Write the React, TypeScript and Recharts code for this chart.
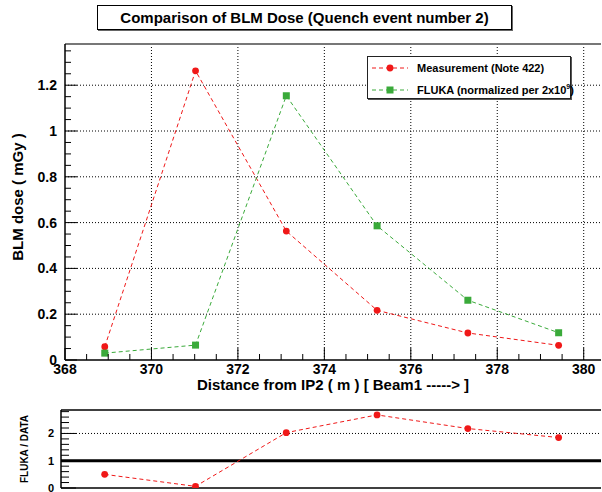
import React from 'react';
import { LineChart, Line, XAxis, YAxis, ReferenceLine, Legend, Label } from 'recharts';

// positions of the BLMs along the beam line (m)
const positions = [368.92, 371.02, 373.12, 375.22, 377.32, 379.42];
// measured dose (Note 422), mGy
const measurement = [0.058, 1.263, 0.563, 0.217, 0.118, 0.064];
// FLUKA simulation normalized per 2x10^9
const fluka = [0.03, 0.065, 1.154, 0.586, 0.261, 0.119];
// FLUKA / DATA ratio
const ratio = [0.5, 0.06, 2.03, 2.68, 2.18, 1.85];

const xMajorTicks = [368, 370, 372, 374, 376, 378, 380];
const yMajorTicks = [0, 0.2, 0.4, 0.6, 0.8, 1, 1.2];
const ratioMajorTicks = [0, 1, 2];

const X_DOMAIN: [number, number] = [368, 380.4];
const RATIO_X_DOMAIN: [number, number] = [367.91, 380.4];
const Y_MAX = 1.38;
const RATIO_MAX = 2.86;

const RED = '#f01818';
const GREEN = '#3aaa3a';

// add minor ticks between major ones (axis decoration only)
const withMinor = (majors: number[], step: number, max: number) => {
  const out: number[] = [];
  for (let i = 0; Math.round((majors[0] + i * step) * 1000) / 1000 <= max; i++) {
    out.push(Math.round((majors[0] + i * step) * 1000) / 1000);
  }
  return out;
};

const xTicks = withMinor(xMajorTicks, 0.5, X_DOMAIN[1]);
const yTicks = withMinor(yMajorTicks, 0.05, Y_MAX);
const ratioTicks = withMinor(ratioMajorTicks, 0.2, RATIO_MAX);

const isMajor = (v: number, majors: number[]) => majors.some((m) => Math.abs(m - v) < 1e-6);

const mainData = positions.map((x, i) => ({ x, measurement: measurement[i], fluka: fluka[i] }));
const ratioData = positions.map((x, i) => ({ x, ratio: ratio[i] }));

const XTick = (props: any) => {
  const { x, y, payload } = props;
  const major = isMajor(payload.value, xMajorTicks);
  return (
    <g>
      <line x1={x} x2={x} y1={y} y2={y - (major ? 12 : 6)} stroke="#000" />
      {major && (
        <text x={x} y={y + 14} textAnchor="middle" fontSize={14} fontWeight="bold" fill="#000">
          {payload.value}
        </text>
      )}
    </g>
  );
};

const YTick = (props: any) => {
  const { x, y, payload } = props;
  const major = isMajor(payload.value, yMajorTicks);
  return (
    <g>
      <line x1={x} x2={x + (major ? 12 : 6)} y1={y} y2={y} stroke="#000" />
      {major && (
        <text x={x - 8} y={y + 5} textAnchor="end" fontSize={14} fontWeight="bold" fill="#000">
          {String(Number(payload.value.toFixed(1)))}
        </text>
      )}
    </g>
  );
};

const RatioTick = (props: any) => {
  const { x, y, payload } = props;
  const major = isMajor(payload.value, ratioMajorTicks);
  return (
    <g>
      <line x1={x} x2={x + (major ? 15 : 8)} y1={y} y2={y} stroke="#000" />
      {major && (
        <text x={x - 7} y={y + 4} textAnchor="end" fontSize={11} fontWeight="bold" fill="#000">
          {payload.value}
        </text>
      )}
    </g>
  );
};

const RedDot = (p: any) => <circle key={`r-${p.index}`} cx={p.cx} cy={p.cy} r={3.4} fill={RED} />;
const GreenSquare = (p: any) => (
  <rect key={`g-${p.index}`} x={p.cx - 3.5} y={p.cy - 3.5} width={7} height={7} fill={GREEN} />
);

const legendOrder = ['measurement', 'fluka'];

const LegendBox = (props: any) => {
  const items = [...(props.payload || [])].sort(
    (a: any, b: any) => legendOrder.indexOf(a.value) - legendOrder.indexOf(b.value)
  );
  return (
    <div
      style={{
        width: 202,
        height: 41,
        border: '1px solid #222',
        boxShadow: '1px 1px 0 #555',
        background: '#fff',
        position: 'relative',
      }}
    >
      {items.map((item: any, i: number) => (
        <div key={item.value} style={{ position: 'absolute', left: 0, top: i === 0 ? 2 : 24, height: 18, width: 260 }}>
          <svg width={44} height={18} style={{ position: 'absolute', left: 2, top: 0 }}>
            <line x1={2} x2={38} y1={9} y2={9} stroke={item.color} strokeDasharray="4 3" />
            {item.type === 'square' ? (
              <rect x={20 - 3.5} y={9 - 3.5} width={7} height={7} fill={item.color} />
            ) : (
              <circle cx={20} cy={9} r={3.4} fill={item.color} />
            )}
          </svg>
          <span
            style={{
              position: 'absolute',
              left: 49,
              top: 2,
              fontSize: 11,
              fontWeight: 'bold',
              whiteSpace: 'nowrap',
              lineHeight: '14px',
            }}
          >
            {item.value === 'fluka' ? (
              <>
                FLUKA (normalized per 2x10<sup style={{ fontSize: 7, verticalAlign: 5, lineHeight: 0 }}>9</sup>)
              </>
            ) : (
              'Measurement (Note 422)'
            )}
          </span>
        </div>
      ))}
    </div>
  );
};

export default function App() {
  return (
    <div
      style={{
        position: 'fixed',
        left: 0,
        top: 0,
        width: 602,
        height: 492,
        overflow: 'hidden',
        background: '#fff',
        fontFamily: '"Liberation Sans", Arial, sans-serif',
      }}
    >
      <div
        style={{
          position: 'absolute',
          left: 97,
          top: 5,
          width: 413,
          height: 23,
          border: '1px solid #000',
          boxShadow: '1px 1px 0 #666',
          textAlign: 'center',
          lineHeight: '23px',
          fontSize: 15,
          fontWeight: 'bold',
        }}
      >
        Comparison of BLM Dose (Quench event number 2)
      </div>

      <div style={{ position: 'absolute', left: 0, top: 0 }}>
        <LineChart width={602} height={400} data={mainData} margin={{ top: 44, right: 1, left: 0, bottom: 0 }}>
          <XAxis
            dataKey="x"
            type="number"
            domain={X_DOMAIN}
            allowDataOverflow
            ticks={xTicks}
            interval={0}
            tick={<XTick />}
            tickLine={false}
            tickSize={0}
            tickMargin={0}
            height={40}
            axisLine={{ stroke: '#000', strokeWidth: 1.5 }}
          >
            <Label
              content={(p: any) => {
                const vb = p.viewBox;
                return (
                  <text x={vb.x + vb.width / 2} y={vb.y + 30} textAnchor="middle" fontSize={15} fontWeight="bold" fill="#000">
                    Distance from IP2 ( m ) [ Beam1 -----&gt; ]
                  </text>
                );
              }}
            />
          </XAxis>
          <YAxis
            type="number"
            domain={[0, Y_MAX]}
            allowDataOverflow
            ticks={yTicks}
            interval={0}
            tick={<YTick />}
            tickLine={false}
            tickSize={0}
            tickMargin={0}
            width={65}
            axisLine={{ stroke: '#000', strokeWidth: 1.5 }}
          >
            <Label
              content={(p: any) => {
                const vb = p.viewBox;
                const cx = vb.x + 17;
                const cy = vb.y + vb.height / 2 - 5;
                return (
                  <text
                    x={cx}
                    y={cy}
                    transform={`rotate(-90 ${cx} ${cy})`}
                    textAnchor="middle"
                    dominantBaseline="central"
                    fontSize={15}
                    fontWeight="bold"
                    fill="#000"
                  >
                    BLM dose ( mGy )
                  </text>
                );
              }}
            />
          </YAxis>
          {xMajorTicks.slice(1).map((v) => (
            <ReferenceLine key={`gx-${v}`} x={v} stroke="#000" strokeDasharray="1 2" />
          ))}
          {yMajorTicks.slice(1).map((v) => (
            <ReferenceLine key={`gy-${v}`} y={v} stroke="#000" strokeDasharray="1 2" />
          ))}
          <ReferenceLine y={Y_MAX} stroke="#777" strokeWidth={2} />
          <Legend
            layout="horizontal"
            verticalAlign="middle"
            align="center"
            content={<LegendBox />}
            wrapperStyle={{ position: 'absolute', left: 367, top: 56, width: 204, height: 43 }}
          />
          <Line
            dataKey="measurement"
            name="measurement"
            stroke={RED}
            strokeDasharray="4 3"
            strokeWidth={1}
            dot={RedDot}
            legendType="circle"
            isAnimationActive={false}
          />
          <Line
            dataKey="fluka"
            name="fluka"
            stroke={GREEN}
            strokeDasharray="4 3"
            strokeWidth={1}
            dot={GreenSquare}
            legendType="square"
            isAnimationActive={false}
          />
        </LineChart>
      </div>

      <div style={{ position: 'absolute', left: 0, top: 400 }}>
        <LineChart width={602} height={92} data={ratioData} margin={{ top: 10, right: 1, left: 0, bottom: 3 }}>
          <XAxis
            dataKey="x"
            type="number"
            domain={RATIO_X_DOMAIN}
            allowDataOverflow
            tick={false}
            tickLine={false}
            height={1}
            axisLine={{ stroke: '#000', strokeWidth: 1.5 }}
          />
          <YAxis
            type="number"
            domain={[0, RATIO_MAX]}
            allowDataOverflow
            ticks={ratioTicks}
            interval={0}
            tick={<RatioTick />}
            tickLine={false}
            tickSize={0}
            tickMargin={0}
            width={61}
            axisLine={{ stroke: '#000', strokeWidth: 1.5 }}
          >
            <Label
              content={(p: any) => {
                const vb = p.viewBox;
                const cx = vb.x + 24;
                const cy = vb.y + vb.height / 2;
                return (
                  <text
                    x={cx}
                    y={cy}
                    transform={`rotate(-90 ${cx} ${cy})`}
                    textAnchor="middle"
                    dominantBaseline="central"
                    fontSize={10}
                    fontWeight="bold"
                    fill="#000"
                  >
                    FLUKA / DATA
                  </text>
                );
              }}
            />
          </YAxis>
          <ReferenceLine y={2} stroke="#000" strokeDasharray="1 2" />
          <ReferenceLine y={1} stroke="#000" strokeWidth={3} />
          <ReferenceLine y={RATIO_MAX} stroke="#000" strokeWidth={1.5} />
          <Line
            dataKey="ratio"
            stroke={RED}
            strokeDasharray="4 3"
            strokeWidth={1}
            dot={RedDot}
            isAnimationActive={false}
          />
        </LineChart>
      </div>
    </div>
  );
}
